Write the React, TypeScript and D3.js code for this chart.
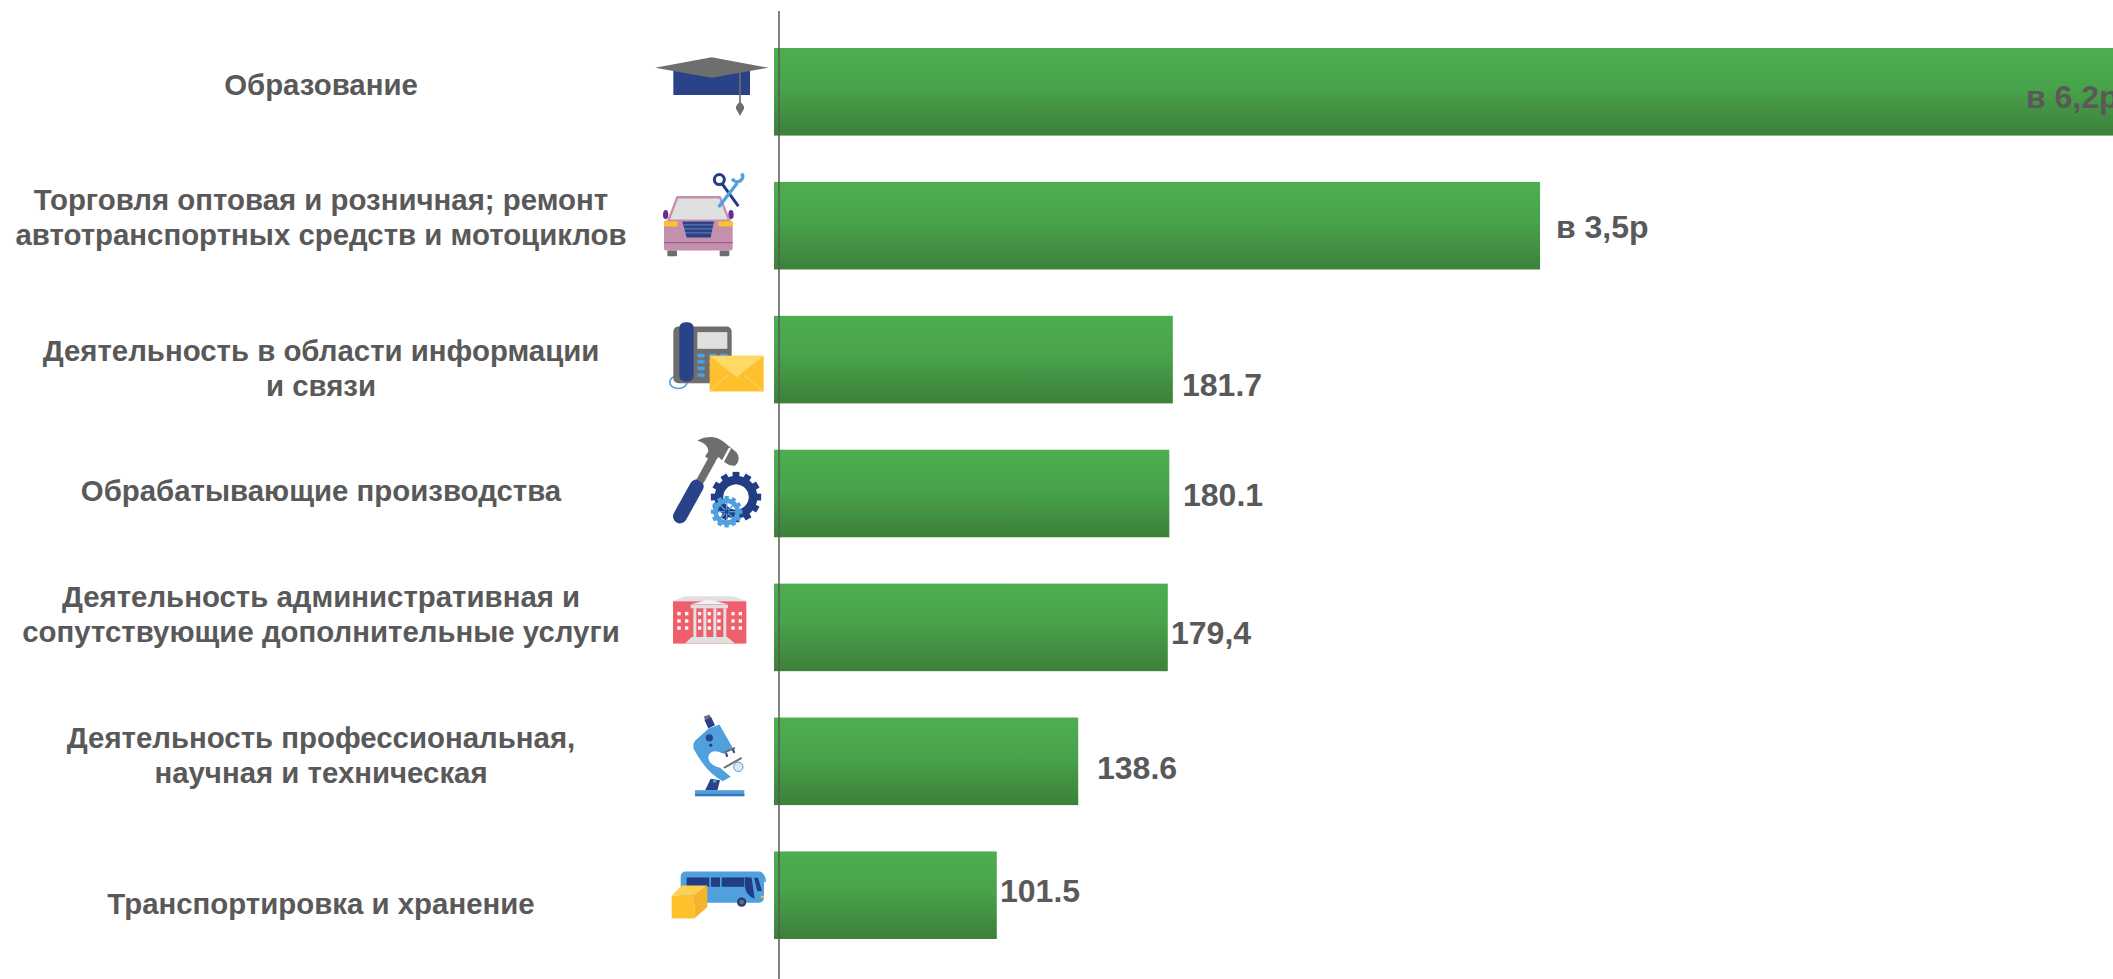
import * as d3 from "d3";

const categories = [
  "Образование",
  "Торговля",
  "Информация",
  "Обрабатывающие",
  "Административная",
  "Профессиональная",
  "Транспортировка",
];
const categoryLines = [
  ["Образование"],
  ["Торговля оптовая и розничная; ремонт", "автотранспортных средств и мотоциклов"],
  ["Деятельность в области информации", "и связи"],
  ["Обрабатывающие производства"],
  ["Деятельность административная и", "сопутствующие дополнительные услуги"],
  ["Деятельность профессиональная,", "научная и техническая"],
  ["Транспортировка и хранение"],
];
// the two big bars are labelled as multiples, so they are stored as percent
const values = [620, 349, 181.7, 180.1, 179.4, 138.6, 101.5];
const valueLabels = ["в 6,2р", "в 3,5р", "181.7", "180.1", "179,4", "138.6", "101.5"];

// hand placed labels, the original slide has them nudged one by one
const labelLeft = [2026, 1556, 1182, 1183, 1171, 1097, 1000];
const labelDy = [16, 12, 36, 12, 17, 18, 7];
const firstLineDy = [3, -16, 1, 7, -20, -13, 19];

const W = 2113;
const H = 979;
const AXIS_X = 779;
const GREY = "#595959";
const NAVY = "#2A4288";
const SKY = "#4FA0DC";
const ICON_GREY = "#6E6E6E";
const YELLOW = "#FFC02E";
const LIGHT = "#E0E0E0";

const x = d3.scaleLinear().domain([0, 100]).range([774, 993.5]);
const y = d3.scaleBand<string>().domain(categories).range([48, 939]).paddingInner(0.346);

function Gear({ cx, cy, r, hole, teeth, fill }: { cx: number; cy: number; r: number; hole: number; teeth: number; fill: string }) {
  return (
    <g>
      {d3.range(teeth).map((i) => (
        <rect
          key={i}
          x={cx - r * 0.16}
          y={cy - r * 1.18}
          width={r * 0.32}
          height={r * 0.4}
          fill={fill}
          transform={`rotate(${(i * 360) / teeth} ${cx} ${cy})`}
        />
      ))}
      <circle cx={cx} cy={cy} r={r - hole / 2} fill="none" stroke={fill} strokeWidth={hole} />
    </g>
  );
}

// icons are in the coordinates of a 3x crop, barTop is where the bar starts in that crop
function Cap() {
  return (
    <g>
      <rect x={220} y={205} width={230} height={80} fill={NAVY} />
      <polygon points="165,203 335,172 505,203 335,233" fill={ICON_GREY} />
      <line x1={420} y1={215} x2={420} y2={315} stroke={ICON_GREY} strokeWidth={5} />
      <path d="M420,306 Q434,315 432,326 L420,348 L408,326 Q406,315 420,306Z" fill={ICON_GREY} />
    </g>
  );
}

function Car() {
  return (
    <g>
      <ellipse cx={197} cy={647} rx={8} ry={14} fill="#6A2C91" />
      <ellipse cx={393} cy={647} rx={8} ry={14} fill="#6A2C91" />
      <polygon points="205,665 232,595 360,595 388,665" fill={LIGHT} stroke="#C58FAE" strokeWidth={7} strokeLinejoin="round" />
      <rect x={192} y={665} width={206} height={90} rx={8} fill="#C58FAE" />
      <rect x={202} y={755} width={29} height={17} rx={3} fill={ICON_GREY} />
      <rect x={359} y={755} width={29} height={17} rx={3} fill={ICON_GREY} />
      <polygon points="247,668 342,668 332,716 260,716" fill={NAVY} />
      {[678, 690, 702].map((v) => (
        <line key={v} x1={250} x2={339} y1={v} y2={v} stroke="#8FA5D0" strokeWidth={2} />
      ))}
      <rect x={192} y={667} width={41} height={16} rx={3} fill={YELLOW} />
      <rect x={355} y={667} width={43} height={16} rx={3} fill={YELLOW} />
      <line x1={192} x2={398} y1={731} y2={731} stroke="#9A5E92" strokeWidth={4} />
      <line x1={415} y1={622} x2={367} y2={556} stroke="#233D84" strokeWidth={9} />
      <circle cx={358} cy={542} r={15} fill="none" stroke="#233D84" strokeWidth={9} />
      <line x1={356} y1={624} x2={412} y2={552} stroke={SKY} strokeWidth={10} />
      <path d="M396,540 Q410,556 424,543 Q432,533 425,524" fill="none" stroke={SKY} strokeWidth={10} />
    </g>
  );
}

function Phone() {
  const keyX = [172, 208, 240];
  const keyY = [162, 180, 200, 220];
  return (
    <g>
      <ellipse cx={115} cy={247} rx={26} ry={19} fill="none" stroke={SKY} strokeWidth={5} />
      <rect x={100} y={80} width={175} height={170} rx={15} fill={ICON_GREY} />
      <rect x={172} y={97} width={90} height={50} fill={LIGHT} />
      {keyX.map((kx) => keyY.map((ky) => <rect key={`${kx}-${ky}`} x={kx} y={ky} width={22} height={11} rx={2} fill={SKY} />))}
      <rect x={118} y={67} width={43} height={178} rx={17} fill={NAVY} />
      <rect x={209} y={168} width={162} height={107} fill={YELLOW} />
      <polygon points="209,168 371,168 290,232" fill="#FFD966" />
      <line x1={209} y1={275} x2={265} y2={225} stroke="#FFD966" strokeWidth={3} />
      <line x1={371} y1={275} x2={312} y2={225} stroke="#FFD966" strokeWidth={3} />
    </g>
  );
}

function Hammer() {
  return (
    <g>
      <line x1={120} y1={650} x2={170} y2={560} stroke={NAVY} strokeWidth={42} strokeLinecap="round" />
      <line x1={180} y1={545} x2={217} y2={478} stroke={ICON_GREY} strokeWidth={24} />
      <path d="M172,422 Q215,400 250,425 L290,458 Q305,480 285,498 Q270,500 255,488 L235,472 L222,490 L195,470 L205,455 Q205,432 172,422Z" fill={ICON_GREY} />
      <line x1={270} y1={445} x2={247} y2={488} stroke="#FFFFFF" strokeWidth={7} />
      <Gear cx={288} cy={592} r={64} hole={26} teeth={12} fill="#233D84" />
      <circle cx={288} cy={592} r={36} fill="none" stroke="#FFFFFF" strokeWidth={3} />
      <Gear cx={260} cy={636} r={40} hole={14} teeth={12} fill={SKY} />
      {[0, 45, 90, 135].map((a) => (
        <line key={a} x1={260} y1={600} x2={260} y2={672} stroke={SKY} strokeWidth={4} transform={`rotate(${a} 260 636)`} />
      ))}
      <circle cx={260} cy={636} r={6} fill="#233D84" />
    </g>
  );
}

function Building() {
  const side = [117, 140, 279, 301];
  const mid = [179, 208, 237];
  const rows = [162, 184, 205];
  return (
    <g>
      <polygon points="97,125 135,110 280,110 320,125" fill={LIGHT} />
      <rect x={99} y={125} width={220} height={127} fill="#EE5F6B" />
      <polygon points="150,135 208,120 266,135" fill="#F2F2F2" />
      {[160, 190, 220, 250].map((v) => (
        <rect key={v} x={v} y={146} width={9} height={88} fill={LIGHT} />
      ))}
      <rect x={152} y={136} width={112} height={10} fill={LIGHT} />
      <polygon points="135,252 155,232 262,232 285,252" fill={LIGHT} />
      {[...side, ...mid].map((wx) =>
        rows.map((wy) => <rect key={`${wx}-${wy}`} x={wx - 5} y={wy - 5} width={10} height={10} fill="#FFFFFF" />),
      )}
    </g>
  );
}

function Microscope() {
  return (
    <g>
      <line x1={200} y1={78} x2={203} y2={86} stroke={ICON_GREY} strokeWidth={18} />
      <line x1={203} y1={86} x2={215} y2={112} stroke={NAVY} strokeWidth={22} />
      <path d="M205,118 L238,105 L278,175 L248,192 Q215,175 205,200 Q203,225 240,235 L272,262 L248,275 Q200,250 162,180 Q155,160 172,148Z" fill={SKY} />
      <circle cx={208} cy={145} r={11} fill={NAVY} />
      <circle cx={212} cy={167} r={5} fill={NAVY} />
      <line x1={250} y1={190} x2={285} y2={175} stroke={ICON_GREY} strokeWidth={6} />
      <line x1={258} y1={190} x2={262} y2={202} stroke={NAVY} strokeWidth={6} />
      <line x1={278} y1={178} x2={283} y2={190} stroke={NAVY} strokeWidth={6} />
      <line x1={252} y1={235} x2={305} y2={205} stroke={ICON_GREY} strokeWidth={6} />
      <circle cx={295} cy={232} r={14} fill="#DCE9F5" stroke={SKY} strokeWidth={3} />
      <polygon points="195,303 212,268 240,272 232,303" fill={NAVY} />
      <circle cx={224} cy={275} r={5} fill={SKY} />
      <rect x={165} y={302} width={148} height={18} fill={SKY} />
      <rect x={165} y={313} width={148} height={7} fill="#3B74BE" />
    </g>
  );
}

function Bus() {
  return (
    <g>
      <rect x={122} y={543} width={250} height={94} rx={15} fill={SKY} />
      <rect x={140} y={561} width={68} height={28} fill="#233D84" />
      <rect x={213} y={561} width={27} height={28} fill="#233D84" />
      <rect x={245} y={561} width={68} height={28} fill="#233D84" />
      <path d="M315,560 L335,562 L344,626 Q318,615 315,590Z" fill="#233D84" />
      <path d="M342,562 L354,562 L366,602 L352,602Z" fill="#233D84" />
      <path d="M345,550 Q378,546 375,575" fill="none" stroke={SKY} strokeWidth={5} />
      <circle cx={305} cy={635} r={14} fill="#233D84" />
      <circle cx={305} cy={635} r={7} fill={ICON_GREY} />
      <rect x={362} y={616} width={10} height={6} fill={YELLOW} />
      <polygon points="95,616 125,585 202,585 163,616" fill="#FFD050" />
      <polygon points="163,616 202,585 202,650 163,684" fill="#F5B52A" />
      <rect x={95} y={616} width={68} height={68} fill={YELLOW} />
    </g>
  );
}

const icons = [
  { Draw: Cap, left: 600, barTop: 144 },
  { Draw: Car, left: 600, barTop: 549 },
  { Draw: Phone, left: 640, barTop: 48 },
  { Draw: Hammer, left: 640, barTop: 450 },
  { Draw: Building, left: 640, barTop: 72 },
  { Draw: Microscope, left: 640, barTop: 84 },
  { Draw: Bus, left: 640, barTop: 483 },
];

export default function App() {
  return (
    <svg
      width={W}
      height={H}
      viewBox={`0 0 ${W} ${H}`}
      style={{ position: "absolute", left: 0, top: 0, fontFamily: "'Liberation Sans', Arial, sans-serif" }}
    >
      <defs>
        <linearGradient id="barFill" x1="0" y1="0" x2="0" y2="1">
          <stop offset="0" stopColor="#4DAE50" />
          <stop offset="0.45" stopColor="#48A34B" />
          <stop offset="1" stopColor="#3D803A" />
        </linearGradient>
      </defs>
      <rect width={W} height={H} fill="#FFFFFF" />
      {categories.map((c, i) => (
        <rect
          key={c}
          x={x(0)}
          y={y(c)!}
          width={x(values[i]) - x(0)}
          height={y.bandwidth()}
          fill="url(#barFill)"
        />
      ))}
      <line x1={AXIS_X} x2={AXIS_X} y1={11} y2={H} stroke={GREY} strokeWidth={1.5} />
      {categories.map((c, i) => {
        const mid = y(c)! + y.bandwidth() / 2;
        return (
          <g key={c}>
            {categoryLines[i].map((line, j) => (
              <text
                key={line}
                x={321}
                y={mid + firstLineDy[i] + j * 35}
                textAnchor="middle"
                fontSize={29.4}
                fontWeight={700}
                fill={GREY}
              >
                {line}
              </text>
            ))}
            <text x={labelLeft[i]} y={mid + labelDy[i]} fontSize={32} fontWeight={700} fill={GREY}>
              {valueLabels[i]}
            </text>
          </g>
        );
      })}
      {icons.map(({ Draw, left, barTop }, i) => (
        <g key={categories[i]} transform={`translate(${left},${y(categories[i])! - barTop / 3}) scale(${1 / 3})`}>
          <Draw />
        </g>
      ))}
    </svg>
  );
}
